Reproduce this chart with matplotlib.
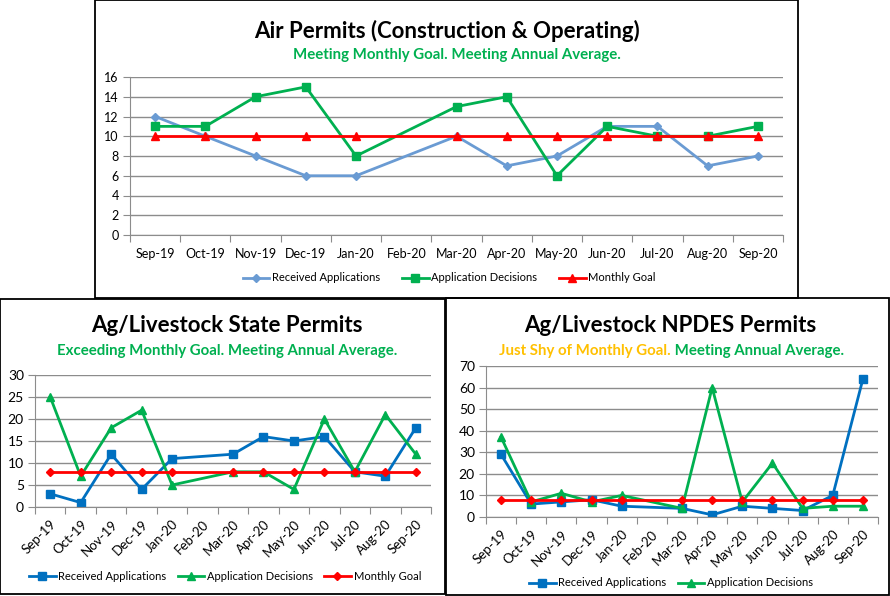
import matplotlib
matplotlib.use("Agg")
import matplotlib.pyplot as plt
from matplotlib.patches import Rectangle
import numpy as np

plt.rcParams['font.family'] = ['Lato', 'DejaVu Sans']

months = ["Sep-19", "Oct-19", "Nov-19", "Dec-19", "Jan-20", "Feb-20", "Mar-20",
          "Apr-20", "May-20", "Jun-20", "Jul-20", "Aug-20", "Sep-20"]
nan = np.nan

air_received = [12, 10, 8, 6, 6, nan, 10, 7, 8, 11, 11, 7, 8]
air_decisions = [11, 11, 14, 15, 8, nan, 13, 14, 6, 11, 10, 10, 11]
air_goal = [10, 10, 10, 10, 10, nan, 10, 10, 10, 10, 10, 10, 10]

state_received = [3, 1, 12, 4, 11, nan, 12, 16, 15, 16, 8, 7, 18]
state_decisions = [25, 7, 18, 22, 5, nan, 8, 8, 4, 20, 8, 21, 12]
state_goal = [8, 8, 8, 8, 8, nan, 8, 8, 8, 8, 8, 8, 8]

npdes_received = [29, 6, 7, 8, 5, nan, 4, 1, 5, 4, 3, 10, 64]
npdes_decisions = [37, 7, 11, 7, 10, nan, 4, 60, 7, 25, 4, 5, 5]
npdes_goal = [8, 8, 8, 8, 8, nan, 8, 8, 8, 8, 8, 8, 8]

W, H = 890, 596
fig = plt.figure(figsize=(W / 100, H / 100), dpi=100)


def fx(px):
    return px / W


def fy(py):
    return 1 - py / H


def box(x0, y0, x1, y1):
    fig.patches.append(Rectangle((fx(x0), fy(y1)), fx(x1) - fx(x0), fy(y0) - fy(y1),
                                 transform=fig.transFigure, fill=False,
                                 edgecolor='black', lw=1.3, zorder=0))


def add_axes(x0, y0, x1, y1):
    return fig.add_axes([fx(x0), fy(y1), fx(x1) - fx(x0), fy(y0) - fy(y1)])


def series(ax, vals, **kw):
    # Feb-20 has no data, the line just joins across it
    y = np.array(vals, dtype=float)
    x = np.arange(len(y))
    m = ~np.isnan(y)
    return ax.plot(x[m], y[m], **kw)[0]


def style(ax, ymax, step, rot, ysize):
    ax.set_xlim(-0.5, 12.5)
    ax.set_ylim(0, ymax)
    ax.set_yticks(np.arange(0, ymax + 1, step))
    ax.yaxis.grid(True, color='#8c8c8c', lw=1)
    ax.set_axisbelow(True)
    for s in ['top', 'right']:
        ax.spines[s].set_visible(False)
    ax.spines['left'].set_color('#8c8c8c')
    ax.spines['bottom'].set_color('#8c8c8c')
    ax.set_xticks(np.arange(-0.5, 13, 1))
    ax.set_xticklabels([])
    ax.set_xticks(np.arange(13), minor=True)
    ax.tick_params(axis='x', which='major', length=5, color='#8c8c8c', direction='out')
    ax.tick_params(axis='x', which='minor', length=0, labelsize=9 if rot == 0 else 9.5)
    ax.set_xticklabels(months, minor=True)
    ax.tick_params(axis='y', length=5, color='#8c8c8c', labelsize=ysize, pad=3)
    if rot:
        ax.tick_params(axis='x', which='minor', pad=8)
        for lab in ax.get_xticklabels(minor=True):
            lab.set_rotation(45)
            lab.set_ha('right')
            lab.set_rotation_mode('anchor')
    else:
        ax.tick_params(axis='x', which='minor', pad=9)


green = '#00B050'
red = '#FF0000'

# top panel: air permits
box(95, 0, 798, 298)
ax1 = add_axes(130, 77, 783, 235)
series(ax1, air_received, color='#6A9BD3', lw=2, marker='D', ms=4, label='Received Applications')
series(ax1, air_decisions, color=green, lw=2, marker='s', ms=6, label='Application Decisions')
series(ax1, air_goal, color=red, lw=2, marker='^', ms=6, label='Monthly Goal')
style(ax1, 16, 2, 0, 9)
fig.text(fx(447), fy(31), "Air Permits (Construction & Operating)", ha='center', va='center',
         fontsize=16, fontweight='bold')
fig.text(fx(457), fy(55), "Meeting Monthly Goal. Meeting Annual Average.", ha='center', va='center',
         fontsize=10.8, fontweight='bold', color=green)
ax1.legend(loc='center', bbox_to_anchor=(fx(449), fy(278)), bbox_transform=fig.transFigure,
           ncol=3, frameon=False, fontsize=8, handlelength=2.4, columnspacing=2.0, handletextpad=0.2)

# bottom-left panel: state permits
box(0, 299, 445, 594)
ax2 = add_axes(35, 375, 431, 507)
series(ax2, state_received, color='#0070C0', lw=2, marker='s', ms=6, label='Received Applications')
series(ax2, state_decisions, color=green, lw=2, marker='^', ms=6, label='Application Decisions')
series(ax2, state_goal, color=red, lw=2, marker='D', ms=4, label='Monthly Goal')
style(ax2, 30, 5, 45, 10)
fig.text(fx(227), fy(326), "Ag/Livestock State Permits", ha='center', va='center',
         fontsize=16, fontweight='bold')
fig.text(fx(227), fy(351), "Exceeding Monthly Goal. Meeting Annual Average.", ha='center', va='center',
         fontsize=10.8, fontweight='bold', color=green)
ax2.legend(loc='center', bbox_to_anchor=(fx(225), fy(576)), bbox_transform=fig.transFigure,
           ncol=3, frameon=False, fontsize=8, handlelength=2.4, columnspacing=1.0, handletextpad=0.25)

# bottom-right panel: NPDES permits
box(446, 298, 889, 595)
ax3 = add_axes(486, 366, 878, 517)
series(ax3, npdes_received, color='#0070C0', lw=2, marker='s', ms=6, label='Received Applications')
series(ax3, npdes_decisions, color=green, lw=2, marker='^', ms=6, label='Application Decisions')
series(ax3, npdes_goal, color=red, lw=2, marker='D', ms=4)
style(ax3, 70, 10, 45, 10)
fig.text(fx(670), fy(326), "Ag/Livestock NPDES Permits", ha='center', va='center',
         fontsize=16, fontweight='bold')
fig.text(fx(671), fy(351), "Just Shy of Monthly Goal.", ha='right', va='center',
         fontsize=10.8, fontweight='bold', color='#FFC000')
fig.text(fx(671), fy(351), " Meeting Annual Average.", ha='left', va='center',
         fontsize=10.8, fontweight='bold', color=green)
ax3.legend(loc='center', bbox_to_anchor=(fx(671), fy(583)), bbox_transform=fig.transFigure,
           ncol=2, frameon=False, fontsize=8, handlelength=2.4, columnspacing=1.0, handletextpad=0.25)

fig.savefig('out.png', dpi=100)
